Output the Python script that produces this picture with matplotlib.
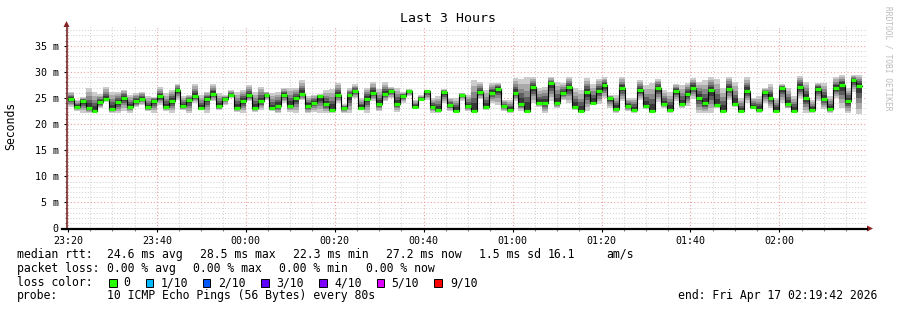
import matplotlib
matplotlib.use("Agg")
import matplotlib.pyplot as plt
import numpy as np
from matplotlib.patches import Polygon, Rectangle
from matplotlib.lines import Line2D

# ---------------- data ----------------
step_minutes = 80 / 60.0  # 80 s probe interval

median_ms = [
    24.8, 23.3, 24.4, 23.1, 22.6, 24.3, 24.9, 22.9, 24.2, 25.1, 23.3, 24.4, 24.9, 23.2, 24.5, 25.3, 23.3, 24.4, 26.5, 23.4,
    24.6, 25.3, 23.1, 24.8, 25.8, 23.4, 24.9, 25.6,
    23.0, 24.4, 25.6, 23.1, 24.4, 25.6, 23.0, 23.5, 25.6, 23.5, 25.0, 25.8, 23.5, 24.1, 25.3, 23.8, 22.8, 25.6, 23.0, 25.5,
    26.3, 23.1, 24.9, 26.0, 23.9, 25.8, 26.3,
    23.9, 25.3, 26.3, 23.3, 24.9, 26.3, 23.3, 22.8, 26.1, 23.6, 22.6, 25.6, 23.4, 22.6, 26.1, 23.3, 26.0, 26.8, 23.4, 22.8,
    26.0, 23.9, 22.6, 27.1, 24.0, 24.1, 27.8, 24.1,
    25.9, 27.1, 23.3, 22.5, 26.1, 24.1, 26.3, 27.4, 25.0, 22.9, 26.9, 23.5, 22.8, 26.5, 23.4, 22.5, 26.9, 23.8, 22.8, 26.3,
    23.8, 25.8, 27.0, 25.1, 24.0, 26.5, 23.6, 22.6,
    26.8, 23.9, 22.5, 26.4, 23.3, 22.8, 26.1, 25.1, 22.6, 26.9, 23.8, 22.6, 27.1, 25.0, 22.8, 26.8, 24.9, 22.9, 26.9, 27.5,
    24.5, 28.4, 27.3,
]
smoke_hi_ms = [
    26.2, 24.7, 25.2, 26.9, 26.1, 25.7, 27.1, 26.2, 26.2, 26.6, 25.6, 25.9, 26.2, 25.4, 25.2, 27.1, 25.9, 26.6, 27.7, 25.4,
    25.6, 27.7, 25.5, 26.2, 27.6, 26.0, 25.5, 26.5,
    26.2, 26.6, 27.4, 26.2, 27.2, 26.2, 25.9, 26.2, 26.9, 27.0, 26.9, 28.4, 25.4, 25.6, 25.7, 26.6, 26.7, 27.9, 23.9, 26.9,
    27.6, 25.0, 27.0, 28.0, 26.7, 28.0, 27.1,
    26.9, 26.2, 26.7, 24.7, 25.5, 26.6, 25.0, 25.4, 26.7, 25.0, 25.0, 26.0, 25.6, 28.5, 28.1, 26.6, 27.9, 27.9, 24.7, 24.6,
    28.8, 28.6, 29.0, 29.0, 26.9, 27.1, 29.0, 28.1,
    27.9, 29.0, 26.9, 26.5, 28.9, 27.7, 28.7, 29.0, 25.5, 25.6, 29.0, 25.0, 25.1, 28.5, 27.5, 27.9, 28.7, 26.5, 26.1, 27.7,
    27.4, 27.9, 28.9, 28.1, 28.4, 29.0, 28.7, 26.9,
    29.1, 28.1, 25.0, 29.0, 25.1, 25.3, 26.9, 27.6, 25.1, 27.7, 27.0, 25.4, 29.3, 28.1, 24.6, 27.9, 27.9, 25.3, 29.0, 29.4,
    26.9, 29.4, 29.4,
]
smoke_lo_ms = [
    23.3, 22.6, 22.2, 22.1, 22.1, 23.0, 24.2, 22.1, 22.1, 22.6, 22.2, 23.2, 23.7, 22.5, 22.2, 23.7, 22.6, 22.2, 24.6, 22.7,
    22.1, 24.1, 22.7, 22.2, 24.4, 22.7, 23.7, 25.0,
    22.4, 22.2, 24.4, 22.4, 22.7, 24.6, 22.6, 22.1, 24.1, 22.4, 22.2, 24.6, 22.1, 22.4, 22.2, 22.2, 22.2, 24.1, 22.1, 22.1,
    25.0, 22.7, 22.1, 24.4, 22.5, 24.4, 25.0,
    22.4, 24.1, 25.3, 23.0, 24.4, 24.6, 22.2, 22.1, 24.0, 22.6, 22.4, 24.5, 22.5, 22.2, 24.8, 22.7, 24.1, 23.7, 22.6, 22.2,
    24.4, 22.6, 22.2, 24.1, 23.3, 22.2, 24.5, 23.1,
    24.6, 24.1, 22.7, 22.1, 22.5, 23.7, 23.9, 25.0, 23.0, 22.2, 24.4, 22.5, 22.2, 24.6, 22.9, 22.1, 24.2, 23.1, 22.2, 24.4,
    23.1, 23.5, 24.9, 22.2, 22.2, 22.2, 23.1, 22.1,
    24.6, 23.3, 22.1, 24.1, 23.0, 22.2, 24.1, 23.1, 22.2, 24.1, 23.0, 22.1, 25.0, 22.2, 22.2, 24.4, 22.9, 22.2, 25.0, 23.1,
    22.1, 26.2, 21.9,
]

x_tick_minutes = [0, 20, 40, 60, 80, 100, 120, 140, 160]
x_tick_labels = ["23:20", "23:40", "00:00", "00:20", "00:40", "01:00", "01:20", "01:40", "02:00"]
y_ticks = [0, 5, 10, 15, 20, 25, 30, 35]
y_tick_labels = ["0", "5 m", "10 m", "15 m", "20 m", "25 m", "30 m", "35 m"]

loss_labels = ["0", "1/10", "2/10", "3/10", "4/10", "5/10", "9/10"]
loss_colors = ["#26ff00", "#00b8ff", "#0059ff", "#5e00ff", "#7e00ff", "#dd00ff", "#ff0000"]

stats_row1 = ["median rtt:", "24.6 ms avg", "28.5 ms max", "22.3 ms min", "27.2 ms now", "1.5 ms sd", "16.1", "am/s"]
stats_row2 = ["packet loss:", "0.00 % avg", "0.00 % max", "0.00 % min", "0.00 % now"]
probe_text = "10 ICMP Echo Pings (56 Bytes) every 80s"
end_text = "end: Fri Apr 17 02:19:42 2026"

# ---------------- figure ----------------
W, H = 897, 310
plt.rcParams["font.family"] = ["DejaVu Sans Mono", "DejaVu Sans"]
fig = plt.figure(figsize=(W / 100, H / 100), dpi=100)
fig.patch.set_facecolor("white")

def fx(px):
    return px / W

def fy(py):
    return (H - py) / H

x_left_px, x_right_px = 66.5, 867.0
y_bot_px, y_top_px = 228.5, 26.0
ax = fig.add_axes([fx(x_left_px), fy(y_bot_px), fx(x_right_px) - fx(x_left_px), fy(y_top_px) - fy(y_bot_px)])
ax.set_facecolor("white")
ax.set_xlim(-0.3, 179.7)
ax.set_ylim(0, 38.8)

# grid
ax.set_xticks(x_tick_minutes)
ax.set_xticklabels(x_tick_labels)
ax.set_xticks(np.arange(0, 180, 5), minor=True)
ax.set_yticks(y_ticks)
ax.set_yticklabels(y_tick_labels)
ax.set_yticks(np.arange(0, 39, 1), minor=True)
ax.grid(which="minor", color="#cfcfcf", linestyle=(0, (1, 2)), linewidth=0.7)
ax.grid(which="major", color="#f0a0a0", linestyle=(0, (1, 2)), linewidth=0.8)
ax.set_axisbelow(True)

ax.tick_params(axis="both", which="major", labelsize=7.2, length=2.5, width=0.8, pad=3, colors="#000000")
ax.tick_params(axis="both", which="minor", length=1.5, width=0.6, colors="#606060")

for s in ["top", "right", "left", "bottom"]:
    ax.spines[s].set_visible(False)

# smoke
n = len(median_ms)
x0 = np.arange(n) * step_minutes
med = np.array(median_ms)
lo = np.array(smoke_lo_ms)
hi = np.array(smoke_hi_ms)
smoke_colors = ["#cccccc", "#aaaaaa", "#888888", "#5e5e5e", "#383838"]
smoke_frac = [1.0, 0.8, 0.6, 0.42, 0.25]
for c, f in zip(smoke_colors, smoke_frac):
    bottom = med - f * (med - lo)
    top = med + f * (hi - med)
    ax.bar(x0, top - bottom, bottom=bottom, width=step_minutes, align="edge",
           color=c, linewidth=0, zorder=2)

# median line (black steps) and loss-coloured median marks
xs = np.append(x0, x0[-1] + step_minutes)
ys = np.append(med, med[-1])
ax.step(xs, ys, where="post", color="#000000", linewidth=0.8, zorder=3)
ax.hlines(med, x0, x0 + step_minutes, colors=loss_colors[0], linewidth=2.3, zorder=4)

# axes lines and arrows (drawn in figure pixels)
fig.add_artist(Line2D([fx(66.5), fx(66.5)], [fy(229), fy(25)], color="#7a2a2a", linewidth=1.2))
fig.add_artist(Line2D([fx(62), fx(867)], [fy(228.8), fy(228.8)], color="#000000", linewidth=1.6))
fig.add_artist(Polygon([[fx(63.5), fy(27)], [fx(69.5), fy(27)], [fx(66.5), fy(21)]],
                       closed=True, facecolor="#8b2020", edgecolor="none"))
fig.add_artist(Polygon([[fx(867), fy(225.5)], [fx(867), fy(231.5)], [fx(873), fy(228.5)]],
                       closed=True, facecolor="#8b2020", edgecolor="none"))

# title and labels
fig.text(fx(448), fy(19), "Last 3 Hours", ha="center", va="center", fontsize=9.5)
fig.text(fx(11), fy(126), "Seconds", ha="center", va="center", rotation=90, fontsize=8.3)
fig.text(fx(888), fy(58), "RRDTOOL / TOBI OETIKER", ha="center", va="center",
         rotation=270, fontsize=5.7, color="#bbbbbb")

# legend rows
fs = 8.3
row_y = [254.3, 268.3, 282.7, 296.0]
row1_x = [16.7, 107.3, 200.0, 293.0, 386.0, 479.3, 547.3, 606.7]
for t, xp in zip(stats_row1, row1_x):
    fig.text(fx(xp), fy(row_y[0]), t, ha="left", va="center", fontsize=fs)
row2_x = [16.7, 107.3, 193.3, 279.3, 365.7]
for t, xp in zip(stats_row2, row2_x):
    fig.text(fx(xp), fy(row_y[1]), t, ha="left", va="center", fontsize=fs)

fig.text(fx(16.7), fy(row_y[2]), "loss color:", ha="left", va="center", fontsize=fs)
box_x = [109.0, 145.7, 202.7, 261.0, 319.0, 376.7, 434.3]
lab_x = [123.3, 161.0, 218.3, 276.0, 334.0, 391.7, 450.7]
for c, t, bx, lx in zip(loss_colors, loss_labels, box_x, lab_x):
    fig.add_artist(Rectangle((fx(bx), fy(row_y[2] + 3.8)), fx(bx + 7.5) - fx(bx), fy(row_y[2] - 3.8) - fy(row_y[2] + 3.8),
                             facecolor=c, edgecolor="#000000", linewidth=0.7))
    fig.text(fx(lx), fy(row_y[2]), t, ha="left", va="center", fontsize=fs)

fig.text(fx(16.7), fy(row_y[3]), "probe:", ha="left", va="center", fontsize=fs)
fig.text(fx(107.3), fy(row_y[3]), probe_text, ha="left", va="center", fontsize=fs)
fig.text(fx(678.3), fy(row_y[3]), end_text, ha="left", va="center", fontsize=fs)

fig.savefig("out.png", dpi=100, facecolor="white")
